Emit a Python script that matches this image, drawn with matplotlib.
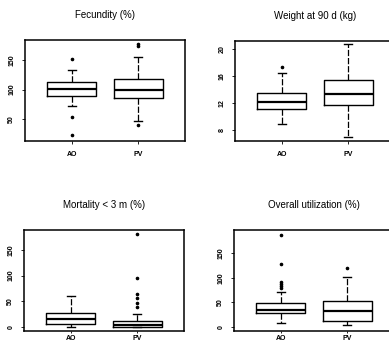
# four boxplot panels, AO vs PV, redrawn from the scanned figure

import matplotlib
matplotlib.use("Agg")
import matplotlib.pyplot as plt

plt.rcParams["font.family"] = ["Liberation Sans", "DejaVu Sans"]

groups = ["AO", "PV"]

titles = ["Fecundity (%)", "Weight at 90 d (kg)", "Mortality < 3 m (%)", "Overall utilization (%)"]

# per panel: [AO, PV]
whislo = [[73, 47], [8.9, 7.0], [0, 0], [8, 4]]
q1 = [[90, 86], [11.1, 11.7], [6, 0], [29, 12]]
med = [[101, 100], [12.1, 13.4], [16, 3], [35, 33]]
q3 = [[113, 118], [13.5, 15.4], [27, 12], [49, 53]]
whishi = [[133, 155], [16.4, 20.7], [60, 25], [71, 101]]
fliers = [
    [[152, 53, 23], [178, 173, 40]],
    [[17.3], []],
    [[], [181, 95, 64, 56, 47, 39]],
    [[186, 128, 91, 87, 83, 80], [119]],
]

yticks = [[50, 100, 150], [8, 12, 16, 20], [0, 50, 100, 150], [0, 50, 100, 150]]
ylims = [(13, 184), (6.4, 21.2), (-8, 189), (-8, 197)]

W, H = 389, 343
# left, right, top, bottom in pixels
boxes = [(25, 185, 40, 141), (235, 395, 41, 141), (24, 184, 230, 331), (234, 394, 230, 331)]

fig = plt.figure(figsize=(W / 100, H / 100), dpi=100)
fig.patch.set_facecolor("white")

for i in range(4):
    l, r, t, b = boxes[i]
    ax = fig.add_axes([l / W, 1 - b / H, (r - l) / W, (b - t) / H])

    stats = []
    for j in range(2):
        stats.append({
            "whislo": whislo[i][j], "q1": q1[i][j], "med": med[i][j],
            "q3": q3[i][j], "whishi": whishi[i][j], "fliers": fliers[i][j],
        })

    ax.bxp(
        stats, positions=[1, 2], widths=0.74, capwidths=0.12,
        boxprops=dict(color="black", linewidth=1.0),
        medianprops=dict(color="black", linewidth=1.6),
        whiskerprops=dict(color="black", linewidth=0.9, linestyle=(0, (5, 1.5))),
        capprops=dict(color="black", linewidth=1.0),
        flierprops=dict(marker="o", markersize=1.6, markerfacecolor="black",
                        markeredgecolor="black"),
    )

    ax.set_xlim(0.29, 2.71)
    ax.set_ylim(*ylims[i])
    ax.set_yticks(yticks[i])
    ax.set_yticklabels([str(v) for v in yticks[i]], rotation=90, va="center",
                       fontsize=5, fontweight="bold")
    ax.set_xticks([1, 2])
    ax.set_xticklabels(groups, fontsize=5, fontweight="bold")
    ax.tick_params(axis="both", length=2, width=0.6, pad=5)
    if i >= 2:
        # bottom row sits right on the picture's lower edge
        ax.tick_params(axis="x", length=1.5, pad=1.5)
    for s in ax.spines.values():
        s.set_linewidth(1.1)

    fig.text((l + r) / 2 / W, 1 - (t - 25) / H, titles[i], ha="center", va="center",
             fontsize=7)

fig.savefig("out.png", dpi=100)
